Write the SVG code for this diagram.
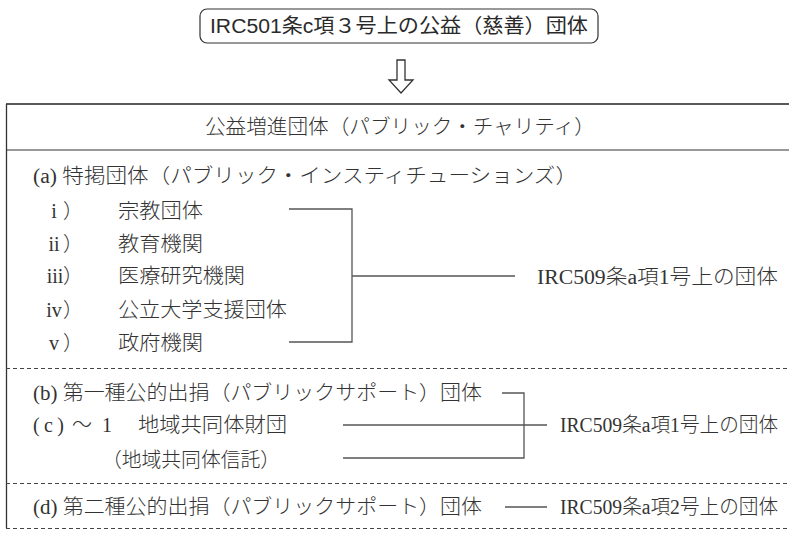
<svg xmlns="http://www.w3.org/2000/svg" width="789" height="553" viewBox="0 0 789 553">
<style>
.sans{font-family:"Liberation Sans","Noto Sans CJK JP",sans-serif;font-size:20px;fill:#2a2a2a}
.ser{font-family:"Liberation Serif","Noto Sans CJK JP",serif;font-size:20px;fill:#333;font-weight:300}
.ln{stroke:#555;stroke-width:1.3;fill:none}
.dash{stroke:#444;stroke-width:1;stroke-dasharray:4 3;fill:none}
</style>
<rect width="789" height="553" fill="#fff"/>
<g id="source">
<rect x="200" y="9" width="398" height="34" rx="7" ry="7" fill="#fff" stroke="#333" stroke-width="1.2"/>
<text class="sans" x="210" y="33" textLength="378" lengthAdjust="spacingAndGlyphs">IRC501条c項３号上の公益（慈善）団体</text>
</g>
<g id="arrow">
<path d="M397,60 H405 V80 H413 L401,93 L389,80 H397 Z" fill="#fff" stroke="#333" stroke-width="1.3" stroke-linejoin="miter"/>
</g>
<g id="frame">
<line x1="6" y1="104" x2="789" y2="104" stroke="#222" stroke-width="1.5"/>
<line x1="6" y1="150" x2="789" y2="150" stroke="#777" stroke-width="1.5"/>
<line x1="6.5" y1="104" x2="6.5" y2="528" stroke="#333" stroke-width="1.3"/>
<line class="dash" x1="6" y1="368.5" x2="789" y2="368.5"/>
<line class="dash" x1="6" y1="483.5" x2="789" y2="483.5"/>
<line class="dash" x1="6" y1="528.5" x2="787" y2="528.5"/>
</g>
<g id="header">
<text class="ser" x="205" y="134" textLength="390" lengthAdjust="spacingAndGlyphs">公益増進団体（パブリック・チャリティ）</text>
</g>
<g id="group-a">
<text class="ser" x="33" y="183" textLength="544" lengthAdjust="spacingAndGlyphs">(a) 特掲団体（パブリック・インスティチューションズ）</text>
<text class="ser" x="54" y="218" text-anchor="middle">i</text><text class="ser" x="63" y="218">）</text>
<text class="ser" x="54" y="251" text-anchor="middle">ii</text><text class="ser" x="63" y="251">）</text>
<text class="ser" x="55" y="283" text-anchor="middle">iii</text><text class="ser" x="63" y="283">）</text>
<text class="ser" x="54" y="317" text-anchor="middle">iv</text><text class="ser" x="63" y="317">）</text>
<text class="ser" x="54" y="350" text-anchor="middle">v</text><text class="ser" x="63" y="350">）</text>
<text class="ser" x="118" y="218" textLength="85" lengthAdjust="spacingAndGlyphs">宗教団体</text>
<text class="ser" x="118" y="251" textLength="85" lengthAdjust="spacingAndGlyphs">教育機関</text>
<text class="ser" x="118" y="283" textLength="127" lengthAdjust="spacingAndGlyphs">医療研究機関</text>
<text class="ser" x="118" y="317" textLength="169" lengthAdjust="spacingAndGlyphs">公立大学支援団体</text>
<text class="ser" x="118" y="350" textLength="85" lengthAdjust="spacingAndGlyphs">政府機関</text>
</g>
<g id="group-b">
<text class="ser" x="33" y="400" textLength="449" lengthAdjust="spacingAndGlyphs">(b) 第一種公的出捐（パブリックサポート）団体</text>
</g>
<g id="group-c">
<text class="ser" x="33" y="432" textLength="31" lengthAdjust="spacing">(c)</text>
<text class="ser" x="72" y="432">～</text>
<text class="ser" x="102" y="432">1</text>
<text class="ser" x="138" y="432" textLength="149" lengthAdjust="spacingAndGlyphs">地域共同体財団</text>
<text class="ser" x="102" y="467" textLength="178" lengthAdjust="spacingAndGlyphs">（地域共同体信託）</text>
</g>
<g id="group-d">
<text class="ser" x="33" y="514" textLength="449" lengthAdjust="spacingAndGlyphs">(d) 第二種公的出捐（パブリックサポート）団体</text>
</g>
<g id="label-1">
<text class="ser" x="537" y="284" textLength="241" lengthAdjust="spacingAndGlyphs">IRC509条a項1号上の団体</text>
</g>
<g id="label-2">
<text class="ser" x="560" y="432" textLength="218" lengthAdjust="spacingAndGlyphs">IRC509条a項1号上の団体</text>
</g>
<g id="label-3">
<text class="ser" x="560" y="514" textLength="218" lengthAdjust="spacingAndGlyphs">IRC509条a項2号上の団体</text>
</g>
<g id="connectors">
<path class="ln" d="M289,209 H352 V342 H289"/>
<path class="ln" d="M352,276 H515"/>
<path class="ln" d="M502,393 H524 V458 H343"/>
<path class="ln" d="M343,425 H547"/>
<path class="ln" d="M505,507 H547"/>
</g>
</svg>
